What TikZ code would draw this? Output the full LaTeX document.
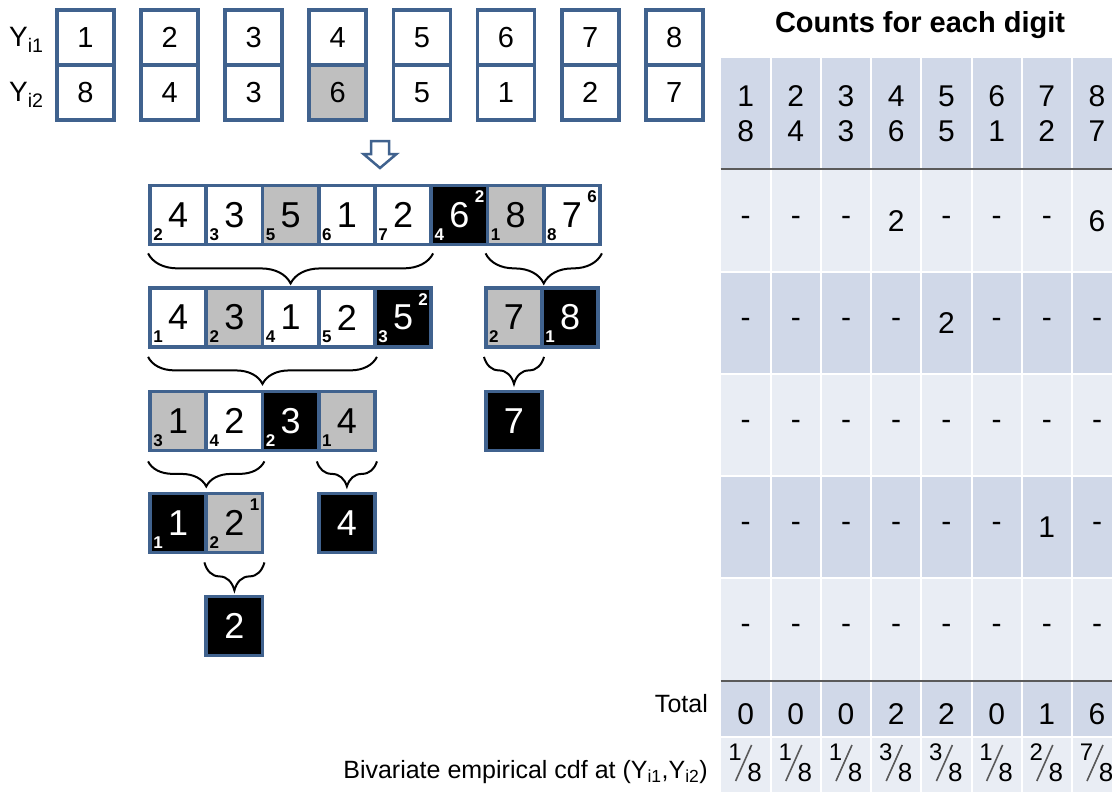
\documentclass[tikz,border=0pt]{standalone}
\usepackage{fontspec}
\setmainfont{Liberation Sans}
\usetikzlibrary{decorations.pathreplacing}
\definecolor{boxblue}{RGB}{64,98,142}
\definecolor{cellgray}{RGB}{191,191,191}
\definecolor{tabdark}{RGB}{208,216,232}
\definecolor{tablight}{RGB}{233,237,244}
\definecolor{ruleg}{RGB}{90,90,90}
\newcommand\fsz[1]{\fontsize{#1}{#1}\selectfont}
\begin{document}
\begin{tikzpicture}[x=1pt,y=-1pt,
 topbox/.style={draw=boxblue,line width=3.8pt,minimum width=57pt,minimum height=55pt,inner sep=0pt,font=\fsz{29}},
 cellbox/.style={draw=boxblue,line width=3.8pt,minimum width=56.25pt,minimum height=59pt,inner sep=0pt,font=\fsz{36}},
 subl/.style={anchor=south west,inner sep=0pt,font=\fsz{17}\bfseries},
 supl/.style={anchor=north east,inner sep=0pt,font=\fsz{17}\bfseries},
 bracest/.style={decorate,decoration={brace,mirror,amplitude=#1},line width=2pt},
 tabtxt/.style={inner sep=0pt,font=\fsz{30}},
 numst/.style={inner sep=0pt,font=\fsz{24}},
 denst/.style={inner sep=0pt,font=\fsz{26}},
 slashst/.style={draw=black!65,line width=1.6pt},
 lbl/.style={inner sep=0pt,font=\fsz{25}}]
\newcommand\cel[8]{%
 \node[cellbox,fill=#2,text=#3] (#1) at (#4,#5) {#6};
 \node[subl,text=#3] (#1s) at ([xshift=5pt,yshift=6pt]#1.south west) {#7};
 \if\relax\detokenize{#8}\relax\else
 \node[supl,text=#3] (#1p) at ([xshift=-5pt,yshift=-7pt]#1.north east) {#8};\fi}
\useasboundingbox (0,0) rectangle (1112,792);
\fill[white] (0,0) rectangle (1112,792);
% ---------- top boxes
\node[inner sep=0pt,anchor=west,font=\fsz{28}] (ya) at (9,40) {Y\textsubscript{i1}};
\node[inner sep=0pt,anchor=west,font=\fsz{28}] (yb) at (9,95) {Y\textsubscript{i2}};
\foreach \a/\b [count=\k] in {1/8,2/4,3/3,4/6,5/5,6/1,7/2,8/7}{
 \node[topbox] (t\k) at (85.5+84.1*\k-84.1,37.5) {\a};
 \node[topbox] (b\k) at (85.5+84.1*\k-84.1,92.5) {\b};
}
\node[topbox,fill=cellgray] at (b4) {6};
% ---------- arrow
\draw[boxblue,line width=2.5pt,fill=white,line join=miter]
 (371,141) -- (389,141) -- (389,154) -- (396.5,154) -- (380,168) -- (363.5,154) -- (371,154) -- cycle;
% ---------- row 1
\cel{r1a}{white}{black}{178.1}{215}{4}{2}{}
\cel{r1b}{white}{black}{234.4}{215}{3}{3}{}
\cel{r1c}{cellgray}{black}{290.6}{215}{5}{5}{}
\cel{r1d}{white}{black}{346.9}{215}{1}{6}{}
\cel{r1e}{white}{black}{403.1}{215}{2}{7}{}
\cel{r1f}{black}{white}{459.4}{215}{6}{4}{2}
\cel{r1g}{cellgray}{black}{515.6}{215}{8}{1}{}
\cel{r1h}{white}{black}{571.9}{215}{7}{8}{6}
% ---------- row 2
\cel{r2a}{white}{black}{178.1}{317.5}{4}{1}{}
\cel{r2b}{cellgray}{black}{234.4}{317.5}{3}{2}{}
\cel{r2c}{white}{black}{290.6}{317.5}{1}{4}{}
\cel{r2d}{white}{black}{346.9}{317.5}{2}{5}{}
\cel{r2e}{black}{white}{403.1}{317.5}{5}{3}{2}
\cel{r2f}{cellgray}{black}{514}{317.5}{7}{2}{}
\cel{r2g}{black}{white}{570.25}{317.5}{8}{1}{}
% ---------- row 3
\cel{r3a}{cellgray}{black}{178.1}{421}{1}{3}{}
\cel{r3b}{white}{black}{234.4}{421}{2}{4}{}
\cel{r3c}{black}{white}{290.6}{421}{3}{2}{}
\cel{r3d}{cellgray}{black}{346.9}{421}{4}{1}{}
\node[cellbox,fill=black,text=white] (r3e) at (514,421) {7};
% ---------- row 4
\cel{r4a}{black}{white}{178.1}{523}{1}{1}{}
\cel{r4b}{cellgray}{black}{234.4}{523}{2}{2}{1}
\node[cellbox,fill=black,text=white] (r4c) at (346.9,523) {4};
% ---------- row 5
\node[cellbox,fill=black,text=white] (r5a) at (234.4,626) {2};
% ---------- braces
\draw[bracest=30pt] ([yshift=-7pt]r1a.south west) -- ([yshift=-7pt]r1e.south east);
\draw[bracest=30pt] ([yshift=-7pt]r1g.south west) -- ([yshift=-7pt]r1h.south east);
\draw[bracest=27pt] ([yshift=-8pt]r2a.south west) -- ([yshift=-8pt]r2d.south east);
\draw[bracest=27pt] ([yshift=-8pt]r2f.south west) -- ([yshift=-8pt]r2f.south east);
\draw[bracest=25pt] ([yshift=-9pt]r3a.south west) -- ([yshift=-9pt]r3b.south east);
\draw[bracest=25pt] ([yshift=-9pt]r3d.south west) -- ([yshift=-9pt]r3d.south east);
\draw[bracest=28pt] ([yshift=-8pt]r4b.south west) -- ([yshift=-8pt]r4b.south east);
% ---------- table
\node[inner sep=0pt,font=\fsz{29}\bfseries] (title) at (920,25) {Counts for each digit};
\fill[tabdark] (720.5,58) rectangle (1112,169);
\fill[tablight] (720.5,169) rectangle (1112,272);
\fill[tabdark] (720.5,272) rectangle (1112,374);
\fill[tablight] (720.5,374) rectangle (1112,476);
\fill[tabdark] (720.5,476) rectangle (1112,578);
\fill[tablight] (720.5,578) rectangle (1112,681);
\fill[tabdark] (720.5,681) rectangle (1112,737);
\fill[tablight] (720.5,737) rectangle (1112,792);
\foreach \k in {1,...,7}{\draw[white,line width=2pt] (720.5+50.2*\k,58) -- (720.5+50.2*\k,792);}
\foreach \yy in {272,374,476,578,737}{\draw[white,line width=2pt] (720.5,\yy) -- (1112,\yy);}
\draw[ruleg,line width=2.5pt] (720.5,169) -- (1112,169);
\draw[ruleg,line width=2.5pt] (720.5,681) -- (1112,681);
\foreach \a/\b [count=\i] in {1/8,2/4,3/3,4/6,5/5,6/1,7/2,8/7}{
 \node[tabtxt,align=center,font=\fontsize{30}{35}\selectfont] (h\i) at (745.6+50.2*\i-50.2,114) {\a\\\b};
}
\foreach \vals [count=\r] in {{-,-,-,2,-,-,-,6},{-,-,-,-,2,-,-,-},{-,-,-,-,-,-,-,-},{-,-,-,-,-,-,1,-},{-,-,-,-,-,-,-,-}}{
 \foreach \v [count=\i] in \vals {
  \node[tabtxt] (c\r-\i) at (745.6+50.2*\i-50.2,221+102*\r-102) {\v};
 }
}
\foreach \v [count=\i] in {0,0,0,2,2,0,1,6}{
 \node[tabtxt] (tot\i) at (745.6+50.2*\i-50.2,714) {\v};
}
\foreach \n [count=\i] in {1,1,1,3,3,1,2,7}{
 \coordinate (fc\i) at (745.6+50.2*\i-50.2,764);
 \node[numst] (fn\i) at ([xshift=-10.5pt,yshift=12pt]fc\i) {\n};
 \node[denst] (fd\i) at ([xshift=9pt,yshift=-9pt]fc\i) {8};
 \coordinate (fsa\i) at ([xshift=-10pt,yshift=-17pt]fc\i);
 \coordinate (fsb\i) at ([xshift=6pt,yshift=19pt]fc\i);
 \draw[slashst] (fsa\i) -- (fsb\i);
}
\node[lbl,anchor=east] (total) at (708,704) {Total};
\node[lbl,anchor=east] (cdf) at (708,772) {Bivariate empirical cdf at (Y\textsubscript{i1},Y\textsubscript{i2})};
\end{tikzpicture}
\end{document}
